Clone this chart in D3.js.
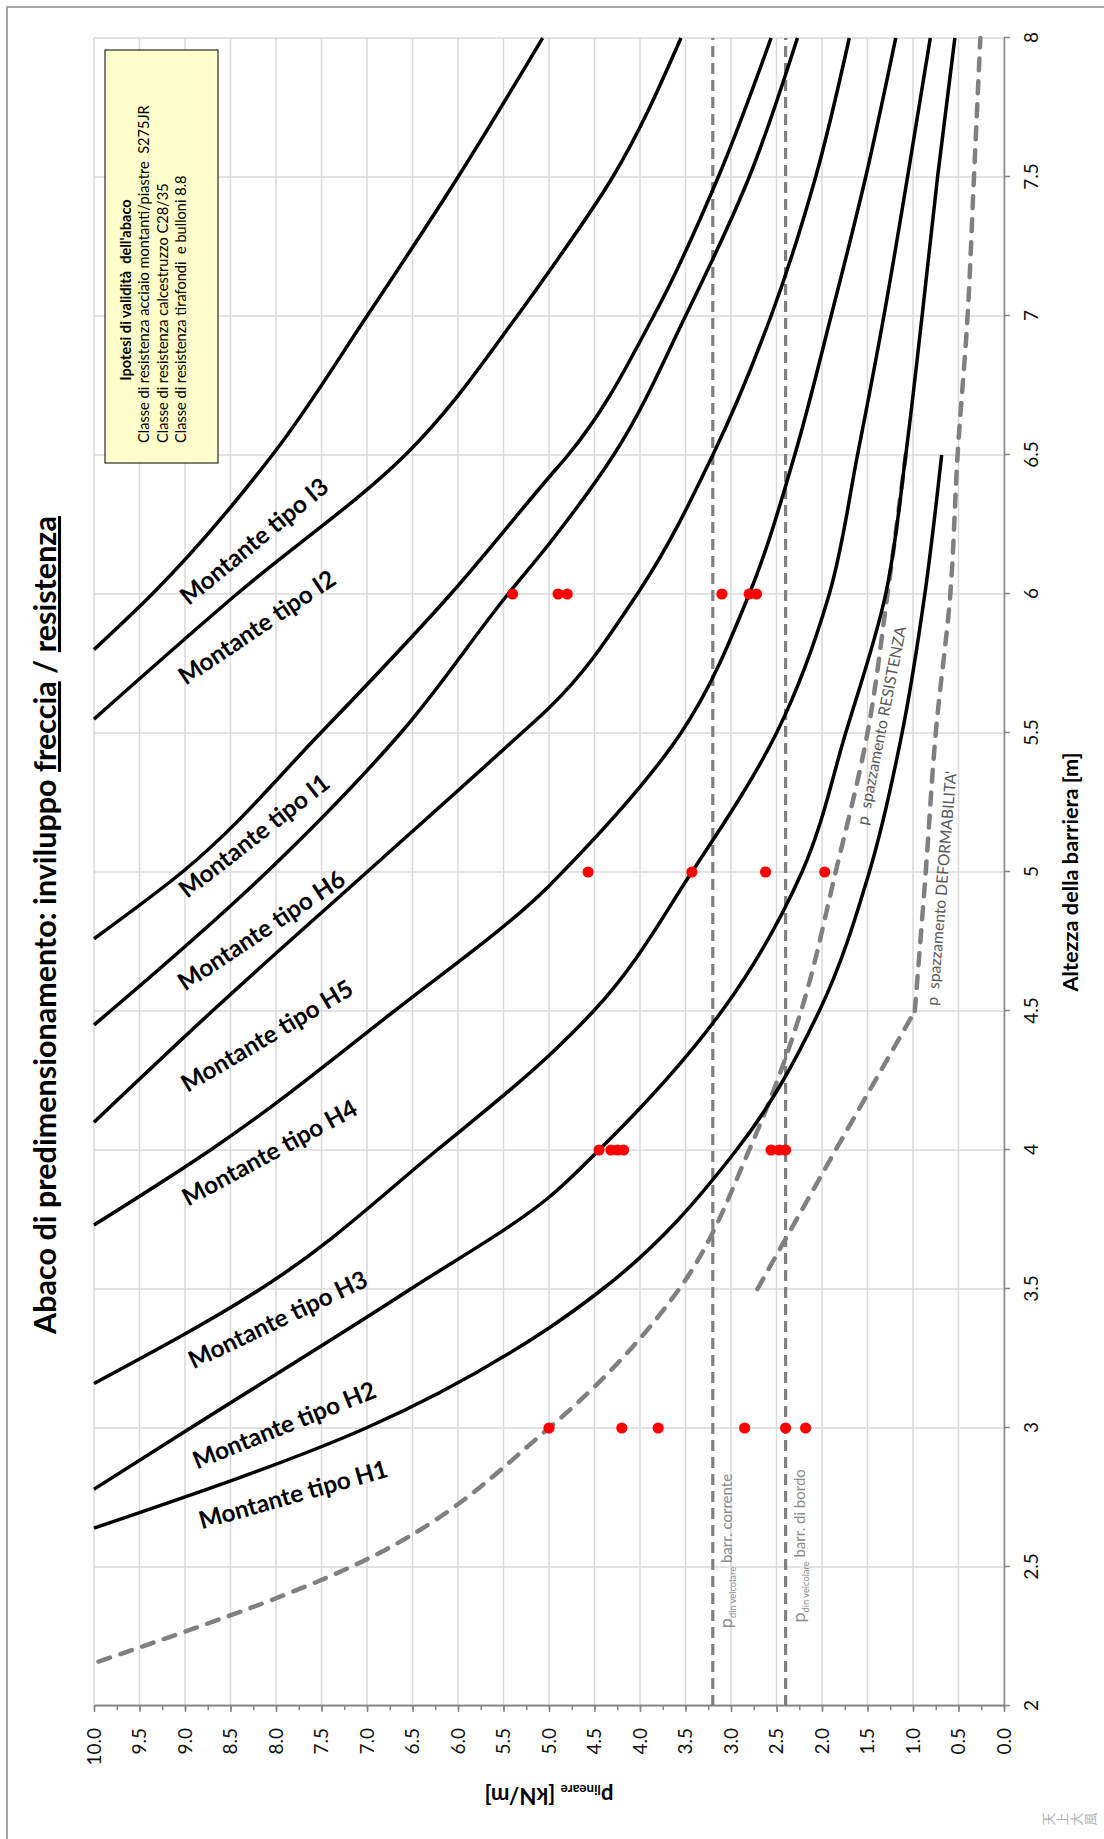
<!DOCTYPE html>
<html>
<head>
<meta charset="utf-8">
<script src="https://cdn.jsdelivr.net/npm/d3@7/dist/d3.min.js"></script>
<style>
body { margin: 0; background: #fff; }
svg { display: block; font-family: Lato, "Noto Sans", sans-serif; }
</style>
</head>
<body>
<script>
// Abaco montanti
// each point is [altezza barriera h (m), p lineare (kN/m)]

var montanteI3 = [[5.80,10],[6.0,9.36],[6.5,8.04],[7.0,7.00],[7.5,6.00],[8.0,5.07]];
var montanteI2 = [[5.55,10],[6.0,8.43],[6.5,6.58],[7.0,5.35],[7.16,5.0],[7.5,4.30],[8.0,3.55]];
var montanteI1 = [[4.76,10],[5.0,9.03],[5.5,7.51],[6.0,6.08],[6.42,5.0],[6.5,4.79],[7.0,3.85],[7.5,3.14],[8.0,2.56]];
var montanteH6 = [[4.45,10],[4.5,9.82],[5.0,8.10],[5.5,6.63],[6.0,5.45],[6.18,5.0],[6.5,4.29],[7.0,3.50],[7.5,2.80],[8.0,2.27]];
var montanteH5 = [[4.10,10],[4.5,8.70],[5.0,7.00],[5.5,5.30],[5.59,5.0],[6.0,4.03],[6.5,3.20],[7.0,2.56],[7.5,2.07],[8.0,1.70]];
var montanteH4 = [[3.73,10],[4.0,8.72],[4.5,6.70],[4.95,5.0],[5.0,4.85],[5.5,3.55],[6.0,2.80],[6.5,2.30],[7.0,1.90],[7.5,1.52],[8.0,1.19]];
var montanteH3 = [[3.16,10],[3.5,8.17],[4.0,6.23],[4.34,5.0],[4.5,4.51],[5.0,3.43],[5.5,2.50],[6.0,1.92],[6.5,1.61],[7.0,1.32],[7.5,1.06],[8.0,0.81]];
var montanteH2 = [[2.78,10],[3.0,8.94],[3.5,6.52],[3.83,5.0],[4.0,4.45],[4.5,3.10],[5.0,2.22],[5.5,1.74],[6.0,1.30],[6.5,1.08],[7.0,0.90],[7.5,0.73],[8.0,0.54]];
var montanteH1 = [[2.64,10],[3.0,7.01],[3.36,5.0],[3.5,4.41],[4.0,2.94],[4.5,2.03],[5.0,1.48],[5.5,1.12],[6.0,0.87],[6.5,0.685]];

var curveNames = ["I3", "I2", "I1", "H6", "H5", "H4", "H3", "H2", "H1"];
var curves = [montanteI3, montanteI2, montanteI1, montanteH6, montanteH5, montanteH4, montanteH3, montanteH2, montanteH1];

// dashed gray: p spazzamento
var spazzResistenza = [[2.16,9.95],[2.5,7.18],[3.0,5.0],[3.5,3.57],[4.0,2.80],[4.5,2.23],[5.0,1.85],[5.5,1.50],[6.0,1.28],[6.5,1.08]];
var spazzDeformStraight = [[3.5,2.71],[4.0,1.85],[4.5,0.98]];
var spazzDeform = [[4.5,0.98],[5.0,0.86],[5.5,0.75],[6.0,0.59],[6.5,0.51],[7.0,0.40],[7.5,0.33],[8.0,0.26]];

// p din veicolare (vertical dotted lines)
var pDinValues = [3.2, 2.4];
var pDinNames = ["barr. corrente", "barr. di bordo"];
var pDinLabelH = [2.28, 2.30];

// red points (verifiche)
var testHeights = [3, 4, 5, 6];
var testLoads = [
  [5.0, 4.2, 3.8, 2.85, 2.4, 2.18],
  [4.45, 4.32, 4.25, 4.18, 2.56, 2.47, 2.40],
  [4.57, 3.43, 2.62, 1.97],
  [5.4, 4.9, 4.8, 3.1, 2.8, 2.72]
];

var hTicks = d3.range(2, 8.01, 0.5);
var pTicks = d3.range(0, 10.01, 0.5);
var pMinorTicks = d3.range(0, 10.01, 0.25);

// where the "Montante tipo .." labels sit (h, p) and their tilt
var labelH = [6.19, 5.88, 5.13, 4.79, 4.41, 3.99, 3.39, 3.01, 2.76];
var labelP = [8.24, 8.21, 8.24, 8.16, 8.10, 8.07, 7.98, 7.91, 7.81];
var labelAngle = [50.6, 56, 52, 56.3, 59.3, 61.5, 64.5, 68.1, 74.3];


var W = 1104, H = 1839;

var svg = d3.select("body")
            .append("svg")
            .attr("width", W)
            .attr("height", H);

// scale a text so it takes a given length
function fitWidth(sel, target) {
  var len = sel.node().getComputedTextLength();
  var size = parseFloat(sel.attr("font-size"));
  sel.attr("font-size", (size * target / len).toFixed(2));
}

// chart border (right and bottom edges fall outside the picture)
svg.append("path")
   .attr("d", "M7," + H + "V7H" + W)
   .attr("fill", "none")
   .attr("stroke", "#8c8c8c")
   .attr("stroke-width", 1.5);

// the whole chart lies on its side: draw it normally, then turn it
var g = svg.append("g")
           .attr("transform", "translate(0," + H + ") rotate(-90)");

var x = d3.scaleLinear().domain([2, 8]).range([133, 1801]);
var y = d3.scaleLinear().domain([0, 10]).range([1004, 94]);

// grid
g.append("g").selectAll("line")
  .data(hTicks).enter().append("line")
  .attr("x1", function(d) { return x(d); })
  .attr("x2", function(d) { return x(d); })
  .attr("y1", y(0)).attr("y2", y(10))
  .attr("stroke", "#d9d9d9").attr("stroke-width", 1.5);

g.append("g").selectAll("line")
  .data(pTicks).enter().append("line")
  .attr("y1", function(d) { return y(d); })
  .attr("y2", function(d) { return y(d); })
  .attr("x1", x(2)).attr("x2", x(8))
  .attr("stroke", "#d9d9d9").attr("stroke-width", 1.5);

// axes
var xAxis = d3.axisBottom(x).tickValues(hTicks).tickFormat(d3.format(""))
              .tickSize(6).tickPadding(15).tickSizeOuter(0);
var yMinor = d3.axisLeft(y).tickValues(pMinorTicks).tickFormat(function() { return ""; })
               .tickSize(4).tickSizeOuter(0);
var yAxis = d3.axisLeft(y).tickValues(pTicks).tickFormat(d3.format(".1f"))
              .tickSize(6).tickPadding(16).tickSizeOuter(0);

var axes = [
  g.append("g").attr("transform", "translate(0," + y(0) + ")").call(xAxis),
  g.append("g").attr("transform", "translate(" + x(2) + ",0)").call(yMinor),
  g.append("g").attr("transform", "translate(" + x(2) + ",0)").call(yAxis)
];
axes.forEach(function(a) {
  a.attr("font-family", "Lato, sans-serif").attr("font-size", 19);
  a.select(".domain").attr("stroke", "#868686").attr("stroke-width", 1.5);
  a.selectAll(".tick line").attr("stroke", "#868686").attr("stroke-width", 1.5);
  a.selectAll(".tick text").attr("fill", "#111");
});

// p din veicolare lines
g.append("g").selectAll("line")
  .data(pDinValues).enter().append("line")
  .attr("x1", x(2)).attr("x2", x(8))
  .attr("y1", function(d) { return y(d); })
  .attr("y2", function(d) { return y(d); })
  .attr("stroke", "#808080").attr("stroke-width", 3.2)
  .attr("stroke-dasharray", "11,6");

var line = d3.line()
             .x(function(d) { return x(d[0]); })
             .y(function(d) { return y(d[1]); })
             .curve(d3.curveMonotoneX);
var straight = d3.line()
             .x(function(d) { return x(d[0]); })
             .y(function(d) { return y(d[1]); });

// p spazzamento (dashed gray)
[line(spazzResistenza), straight(spazzDeformStraight), line(spazzDeform)].forEach(function(dd) {
  g.append("path")
   .attr("d", dd)
   .attr("fill", "none")
   .attr("stroke", "#808080")
   .attr("stroke-width", 4.5)
   .attr("stroke-linecap", "round")
   .attr("stroke-dasharray", "12,11");
});

// montanti
g.append("g").selectAll("path")
  .data(curves).enter().append("path")
  .attr("d", line)
  .attr("fill", "none")
  .attr("stroke", "#000")
  .attr("stroke-width", 3.5);

// red points
var dots = [];
testHeights.forEach(function(h, i) {
  testLoads[i].forEach(function(p) { dots.push([h, p]); });
});
g.append("g").selectAll("circle")
  .data(dots).enter().append("circle")
  .attr("cx", function(d) { return x(d[0]); })
  .attr("cy", function(d) { return y(d[1]); })
  .attr("r", 5.6)
  .attr("fill", "#ff0000");

// curve labels
var labels = g.append("g").selectAll("text")
  .data(curveNames).enter().append("text")
  .attr("transform", function(d, i) {
    return "translate(" + x(labelH[i]) + "," + y(labelP[i]) + ") rotate(" + labelAngle[i] + ")";
  })
  .attr("text-anchor", "middle")
  .attr("dy", "0.35em")
  .attr("font-weight", "bold")
  .attr("font-size", 20)
  .text(function(d) { return "Montante tipo " + d; });
var lblSel = d3.select(labels.nodes()[8]);
fitWidth(lblSel, 195);
labels.attr("font-size", lblSel.attr("font-size"));

// p spazzamento labels
var spz = g.append("text")
  .attr("transform", "translate(" + x(5.17) + "," + y(1.56) + ") rotate(11.1)")
  .attr("dy", "0.35em").attr("font-size", 15).attr("fill", "#595959")
  .style("white-space", "pre")
  .text("p  spazzamento RESISTENZA");
fitWidth(spz, 202);
var spd = g.append("text")
  .attr("transform", "translate(" + x(4.52) + "," + y(0.79) + ") rotate(4.6)")
  .attr("dy", "0.35em").attr("font-size", 15).attr("fill", "#595959")
  .style("white-space", "pre")
  .text("p  spazzamento DEFORMABILITA'");
fitWidth(spd, 235);

// p din veicolare labels
pDinValues.forEach(function(v, i) {
  var t = g.append("text")
    .attr("x", x(pDinLabelH[i]))
    .attr("y", y(v) + 19.5)
    .attr("fill", "#8c8c8c")
    .attr("font-size", 15);
  t.append("tspan").attr("font-size", "1.2em").text("p");
  t.append("tspan").attr("font-size", "0.62em").attr("dy", 4).text("din veicolare");
  t.append("tspan").attr("dy", -4).style("white-space", "pre").text(" " + pDinNames[i]);
});

// note box
g.append("rect")
  .attr("x", 1376).attr("y", 105)
  .attr("width", 413).attr("height", 113)
  .attr("fill", "#ffffcc").attr("stroke", "#000").attr("stroke-width", 1);

var noteLines = ["Classe di resistenza acciaio montanti/piastre  S275JR",
                 "Classe di resistenza calcestruzzo C28/35",
                 "Classe di resistenza tirafondi  e bulloni 8.8"];
var noteHead = g.append("text")
  .attr("x", 1549).attr("y", 131)
  .attr("text-anchor", "middle").attr("font-weight", "bold").attr("font-size", 14)
  .style("white-space", "pre")
  .text("Ipotesi di validità  dell'abaco");
var note = g.append("g").selectAll("text")
  .data(noteLines).enter().append("text")
  .attr("x", 1396)
  .attr("y", function(d, i) { return 149 + i * 18.5; })
  .attr("font-size", 14)
  .style("white-space", "pre")
  .text(function(d) { return d; });
var n0 = d3.select(note.nodes()[0]);
fitWidth(n0, 338);
note.attr("font-size", n0.attr("font-size"));
noteHead.attr("font-size", n0.attr("font-size"));

// titles
var title = g.append("text")
  .attr("x", 914).attr("y", 56)
  .attr("text-anchor", "middle").attr("font-weight", "bold").attr("font-size", 26);
title.append("tspan").text("Abaco di predimensionamento: inviluppo ");
title.append("tspan").style("text-decoration", "underline").text("freccia");
title.append("tspan").style("white-space", "pre").text(" / ");
title.append("tspan").style("text-decoration", "underline").text("resistenza");
fitWidth(title, 818);

var xTitle = g.append("text")
  .attr("x", x(5)).attr("y", 1078)
  .attr("text-anchor", "middle").attr("font-weight", "bold").attr("font-size", 17)
  .text("Altezza della barriera [m]");
fitWidth(xTitle, 239);

var yTitle = g.append("text")
  .attr("transform", "translate(51," + y(5) + ") rotate(-90)")
  .attr("text-anchor", "middle").attr("font-weight", "bold").attr("font-size", 16);
yTitle.append("tspan").text("p");
yTitle.append("tspan").attr("font-size", "0.6em").attr("dy", 3).text("lineare");
yTitle.append("tspan").attr("dy", -3).style("white-space", "pre").text(" [kN/m]");
fitWidth(yTitle, 129);

// small mark in the corner
g.append("g").selectAll("text")
  .data(["天", "上", "大", "風"]).enter().append("text")
  .attr("x", 20)
  .attr("y", function(d, i) { return 1047 + i * 14.3; })
  .attr("text-anchor", "middle")
  .attr("dominant-baseline", "central")
  .attr("font-family", "'Noto Sans CJK JP', sans-serif")
  .attr("font-size", 13)
  .attr("fill", "#b4b4b4")
  .text(function(d) { return d; });
</script>
</body>
</html>
